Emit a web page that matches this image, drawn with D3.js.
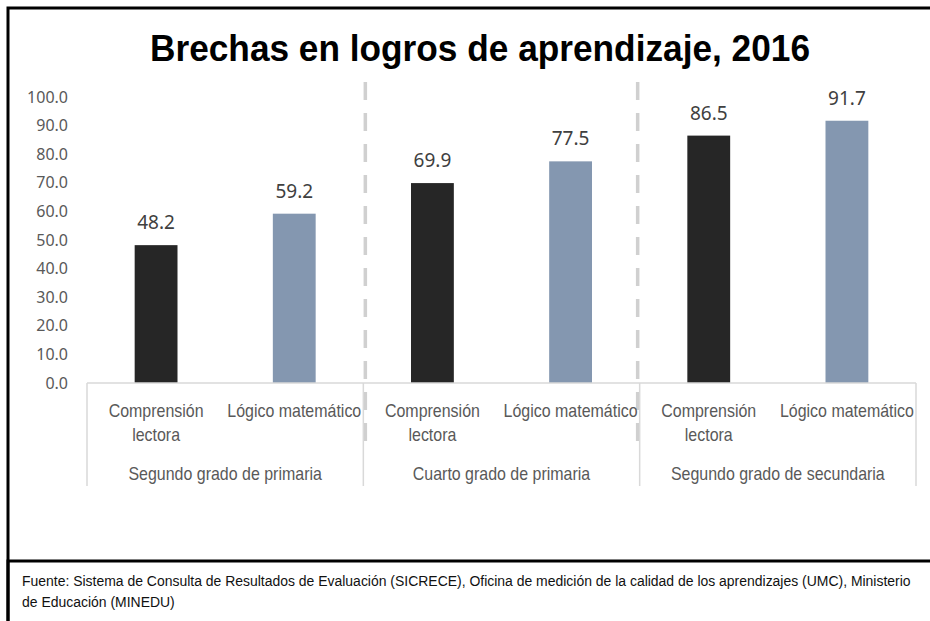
<!DOCTYPE html>
<html lang="es">
<head>
  <meta charset="UTF-8">
  <title>Brechas en logros de aprendizaje, 2016</title>
  <style type="text/css">
    body { margin: 0px; background: #fff; }
    .tick-label { fill: #595959; font-size: 16px; font-family: "Noto Sans", sans-serif; }
    .value-label { fill: #404040; font-size: 19px; font-family: "Noto Sans", sans-serif; }
    .cat-label { fill: #595959; font-size: 19px; font-family: "Liberation Sans", sans-serif; }
    .title { fill: #000; font-size: 37px; font-weight: bold; font-family: "Liberation Sans", sans-serif; }
    .note { fill: #111; font-size: 15.5px; font-family: "Liberation Sans", sans-serif; }
  </style>
  <script src="https://d3js.org/d3.v7.min.js"></script>
</head>
<body>
  <svg width="930" height="621"></svg>
  <script>
    const groups = ['Segundo grado de primaria', 'Cuarto grado de primaria', 'Segundo grado de secundaria'];
    const subjects = ['Comprensión lectora', 'Lógico matemático'];
    const subjectLines = [['Comprensión', 'lectora'], ['Lógico matemático']];
    const comprension = [48.2, 69.9, 86.5];
    const logico = [59.2, 77.5, 91.7];
    const yTicks = [0, 10, 20, 30, 40, 50, 60, 70, 80, 90, 100];
    const colors = ['#262626', '#8497b0'];

    const data = [];
    groups.forEach((g, i) => {
      data.push({ group: g, subject: 0, key: i * 2, value: comprension[i] });
      data.push({ group: g, subject: 1, key: i * 2 + 1, value: logico[i] });
    });

    const svg = d3.select('svg');
    const plot = { left: 87, right: 916, top: 97, bottom: 383 };

    // squeeze text horizontally to mimic a narrow font
    const narrow = (sel, k) => sel.each(function () {
      const w = this.getComputedTextLength();
      d3.select(this).attr('textLength', w * k).attr('lengthAdjust', 'spacingAndGlyphs');
    });

    // frame
    svg.append('rect').attr('x', 0).attr('y', 0).attr('width', 930).attr('height', 621).attr('fill', '#fff');
    svg.append('path')
      .attr('d', 'M8,621 V8 H930')
      .attr('fill', 'none').attr('stroke', '#000').attr('stroke-width', 3);
    svg.append('path')
      .attr('d', 'M8,621 V561 H930')
      .attr('fill', 'none').attr('stroke', '#000').attr('stroke-width', 3);

    const x = d3.scaleBand()
      .domain(d3.range(6))
      .range([plot.left, plot.right])
      .paddingInner(0.69)
      .paddingOuter(0.345);
    const xGroup = d3.scaleBand()
      .domain(groups)
      .range([plot.left, plot.right]);
    const y = d3.scaleLinear()
      .domain([0, 100])
      .range([plot.bottom, plot.top]);

    // title
    svg.append('text')
      .attr('class', 'title')
      .attr('x', 480).attr('y', 61)
      .attr('text-anchor', 'middle')
      .attr('textLength', 660)
      .attr('lengthAdjust', 'spacingAndGlyphs')
      .text('Brechas en logros de aprendizaje, 2016');

    // y tick labels
    svg.append('g').selectAll('text').data(yTicks)
      .enter().append('text')
        .attr('class', 'tick-label')
        .attr('x', 68)
        .attr('y', d => y(d))
        .attr('dy', '0.35em')
        .attr('text-anchor', 'end')
        .text(d => d.toFixed(1));

    // dashed separators
    const seps = [xGroup(groups[1]) + 2, xGroup(groups[2]) - 2];
    svg.append('g').selectAll('line').data(seps)
      .enter().append('line')
        .attr('x1', d => d).attr('x2', d => d)
        .attr('y1', 82).attr('y2', 444)
        .attr('stroke', '#d0d0d0')
        .attr('stroke-width', 3.5)
        .attr('stroke-dasharray', '18,13');

    // bars
    svg.append('g').selectAll('rect').data(data)
      .enter().append('rect')
        .attr('x', d => x(d.key))
        .attr('y', d => y(d.value))
        .attr('width', x.bandwidth())
        .attr('height', d => y(0) - y(d.value))
        .attr('fill', d => colors[d.subject]);

    // value labels
    svg.append('g').selectAll('text').data(data)
      .enter().append('text')
        .attr('class', 'value-label')
        .attr('x', d => x(d.key) + x.bandwidth() / 2)
        .attr('y', d => y(d.value) - 16)
        .attr('text-anchor', 'middle')
        .text(d => d.value.toFixed(1));

    // category axis
    const axisG = svg.append('g');
    axisG.append('line')
      .attr('x1', plot.left).attr('x2', plot.right)
      .attr('y1', plot.bottom).attr('y2', plot.bottom)
      .attr('stroke', '#d9d9d9').attr('stroke-width', 1.5);
    const bounds = groups.map(g => xGroup(g)).concat([plot.right]);
    axisG.selectAll('line.bound').data(bounds)
      .enter().append('line')
        .attr('class', 'bound')
        .attr('x1', d => d).attr('x2', d => d)
        .attr('y1', plot.bottom).attr('y2', 486)
        .attr('stroke', '#d9d9d9').attr('stroke-width', 1.5);

    const catG = axisG.selectAll('g.cat').data(data)
      .enter().append('g')
        .attr('class', 'cat')
        .attr('transform', d => `translate(${x(d.key) + x.bandwidth() / 2},0)`);
    catG.selectAll('text').data(d => subjectLines[d.subject])
      .enter().append('text')
        .attr('class', 'cat-label')
        .attr('text-anchor', 'middle')
        .attr('y', (d, i) => 417 + i * 24)
        .text(d => d)
        .call(narrow, 0.84);

    axisG.selectAll('text.group').data(groups)
      .enter().append('text')
        .attr('class', 'cat-label group')
        .attr('text-anchor', 'middle')
        .attr('x', d => xGroup(d) + xGroup.bandwidth() / 2)
        .attr('y', 480)
        .text(d => d)
        .call(narrow, 0.84);

    // footnote
    const noteLines = [
      'Fuente: Sistema de Consulta de Resultados de Evaluación (SICRECE), Oficina de medición de la calidad de los aprendizajes (UMC), Ministerio',
      'de Educación (MINEDU)'
    ];
    svg.append('g').selectAll('text').data(noteLines)
      .enter().append('text')
        .attr('class', 'note')
        .attr('x', 22)
        .attr('y', (d, i) => 586 + i * 21)
        .text(d => d)
        .call(narrow, 0.9);
  </script>
</body>
</html>
